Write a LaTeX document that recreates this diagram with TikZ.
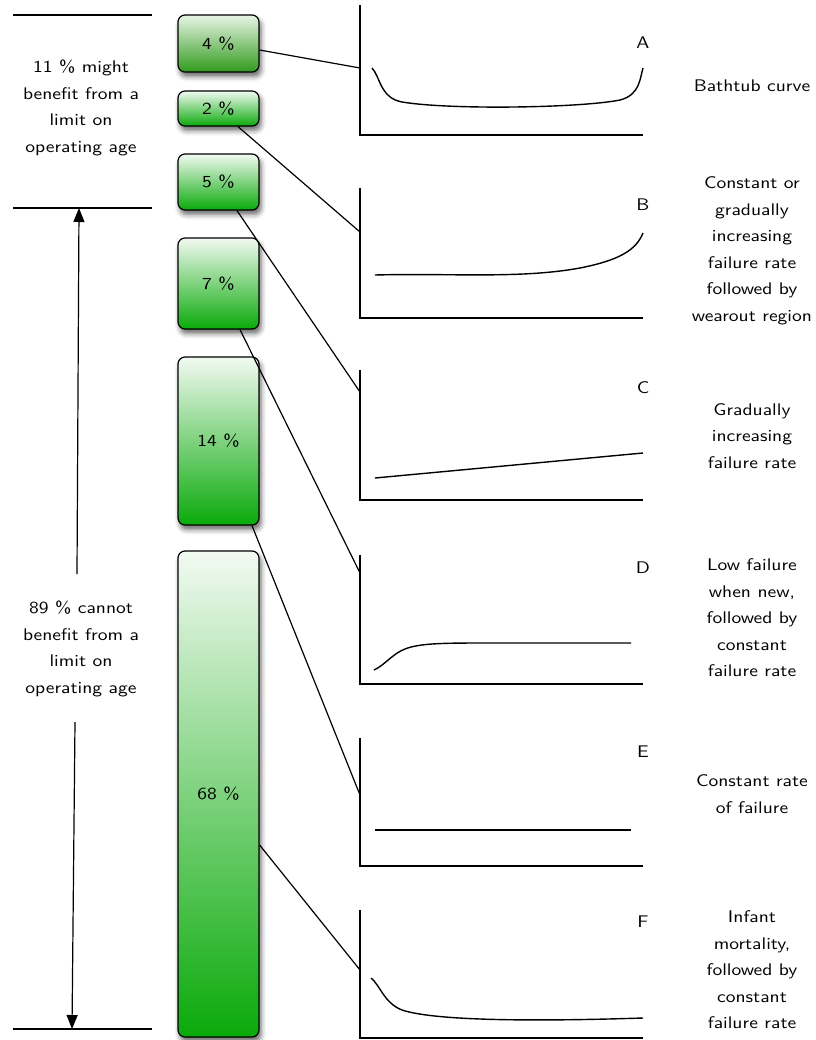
\documentclass[tikz,border=0pt]{standalone}
\usepackage{fontspec}
\setsansfont{lmsans10-regular.otf}[FakeStretch=1.16]
\usetikzlibrary{arrows.meta,calc,shadows.blur}

\definecolor{boxtop}{RGB}{242,250,242}
\definecolor{boxbot}{RGB}{10,170,10}
\definecolor{darktop}{RGB}{232,244,230}
\definecolor{darkbot}{RGB}{48,155,28}

\tikzset{
  txt/.style={font=\sffamily\fontsize{16.9}{26.6}\selectfont, align=center, inner sep=0pt},
  pbox/.style={txt, draw=black, line width=1.2bp, rounded corners=7bp,
    minimum width=81bp, top color=boxtop, bottom color=boxbot,
    blur shadow={shadow xshift=2bp, shadow yshift=-4.5bp, shadow blur radius=5bp, shadow opacity=60}},
  darkbox/.style={top color=darktop, bottom color=darkbot},
  rule/.style={line width=1.3bp},
  axis/.style={line width=1.4bp},
  curve/.style={line width=1.4bp},
  link/.style={line width=1.2bp},
  span/.style={line width=1.2bp, -{Triangle[length=14bp,width=11bp]}},
}

\begin{document}
\begin{tikzpicture}[x=1bp,y=-1bp]
\useasboundingbox (0,0) rectangle (816,1040);

% separators on the left
\draw[rule] (13,15) -- (152,15);
\draw[rule] (13,208) -- (152,208);
\draw[rule] (13,1029) -- (152,1029);

% left annotations
\node[txt] (top11) at (81,108) {11 \% might\\benefit from a\\limit on\\operating age};
\node[txt] (low89) at (81,649) {89 \% cannot\\benefit from a\\limit on\\operating age};
\coordinate (upA) at (77,574);
\coordinate (upB) at (79,208);
\coordinate (dnA) at (75,722);
\coordinate (dnB) at (72,1029);
\draw[span] (upA) -- (upB);
\draw[span] (dnA) -- (dnB);

% share boxes
\node[pbox, darkbox, minimum height=57bp] (b4) at (218.5,43.5) {4 \%};
\node[pbox, minimum height=35bp] (b2) at (218.5,108.5) {2 \%};
\node[pbox, minimum height=56bp] (b5) at (218.5,182) {5 \%};
\node[pbox, minimum height=91bp] (b7) at (218.5,283.5) {7 \%};
\node[pbox, minimum height=168bp] (b14) at (218.5,441) {14 \%};
\node[pbox, minimum height=486bp] (b68) at (218.5,794) {68 \%};

% failure pattern charts: axes
\foreach \t/\b in {5/135, 188/318, 370/500, 555/684, 738/866, 910/1038}{
  \draw[axis] (360,\t) -- (360,\b) -- (643,\b);
}

% chart letters
\node[txt] (lA) at (643,43) {A};
\node[txt] (lB) at (643,205) {B};
\node[txt] (lC) at (643,388) {C};
\node[txt] (lD) at (643,568) {D};
\node[txt] (lE) at (643,752) {E};
\node[txt] (lF) at (643,922) {F};

% curves
\draw[curve] (372,68) .. controls (380,76) and (380,98) .. (402,102)
  .. controls (450,110) and (580,108) .. (620,100)
  .. controls (640,95) and (640,78) .. (643,68);
\draw[curve] (375,275) .. controls (450,273) and (520,279) .. (580,268)
  .. controls (620,260) and (636,250) .. (643,233);
\draw[curve] (375,478) -- (643,453);
\draw[curve] (374,670) .. controls (385,665) and (392,654) .. (405,649)
  .. controls (420,643) and (445,643) .. (490,643) -- (631,643);
\draw[curve] (375,830) -- (631,830);
\draw[curve] (371,978) .. controls (380,985) and (384,1003) .. (402,1010)
  .. controls (432,1020) and (520,1022) .. (643,1018);

% connector targets on the axes
\coordinate (cA) at (360,68);
\coordinate (cB) at (360,232);
\coordinate (cC) at (360,392);
\coordinate (cD) at (360,573);
\coordinate (cE) at (360,795);
\coordinate (cF) at (360,970);

\draw[link] ([yshift=-6.5bp]b4.east) -- (cA);
\draw[link] ([xshift=19.5bp]b2.south) -- (cB);
\draw[link] ([xshift=18.5bp]b5.south) -- (cC);
\draw[link] ([xshift=21.5bp]b7.south) -- (cD);
\draw[link] ([xshift=33.5bp]b14.south) -- (cE);
\draw[link] ([yshift=-51bp]b68.east) -- (cF);

% descriptions
\node[txt] (dA) at (752,86) {Bathtub curve};
\node[txt] (dB) at (752,251) {Constant or\\gradually\\increasing\\failure rate\\followed by\\wearout region};
\node[txt] (dC) at (752,436) {Gradually\\increasing\\failure rate};
\node[txt] (dD) at (752,618) {Low failure\\when new,\\followed by\\constant\\failure rate};
\node[txt] (dE) at (752,794) {Constant rate\\of failure};
\node[txt] (dF) at (752,970) {Infant\\mortality,\\followed by\\constant\\failure rate};
\end{tikzpicture}
\end{document}
